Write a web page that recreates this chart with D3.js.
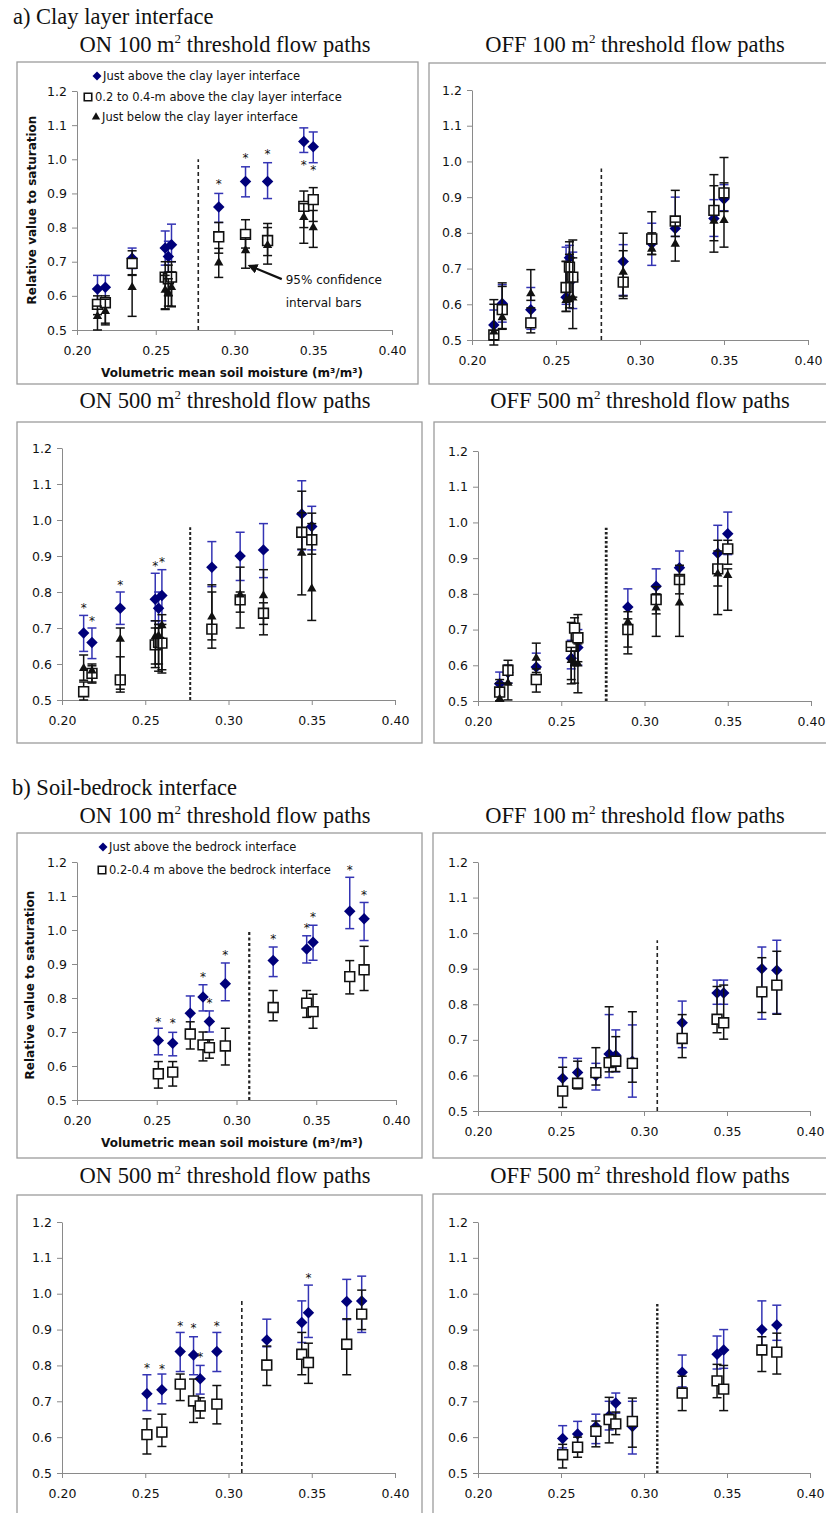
<!DOCTYPE html>
<html>
<head>
<meta charset="utf-8" />
<title>Relative value to saturation vs soil moisture</title>
<script src="https://cdn.jsdelivr.net/npm/d3@7"></script>
<style>
  body { margin: 0; background: #fff; }
  svg { display: block; }
  .tick text { font-family: "DejaVu Sans", sans-serif; font-size: 12.5px; fill: #111; }
  .tick line, .domain { stroke: #8a8a8a; }
  .title { font-family: "Liberation Serif", "Times New Roman", serif; font-size: 22.5px; fill: #111; }
  .axtitle { font-family: "DejaVu Sans", sans-serif; font-size: 12px; font-weight: bold; fill: #111; }
  .legend { font-family: "DejaVu Sans", sans-serif; font-size: 11.5px; fill: #111; }
  .note { font-family: "DejaVu Sans", sans-serif; font-size: 12px; fill: #111; }
  .star { font-family: "DejaVu Sans", sans-serif; font-size: 12px; fill: #111; }
</style>
</head>
<body>
<svg id="chart" width="826" height="1513"></svg>
<script>
// volumetric mean soil moisture of each survey (m3/m3)
const clayMoisture = [0.213, 0.218, 0.235, 0.256, 0.258, 0.260, 0.290, 0.307, 0.321, 0.344, 0.350];
const bedrockMoisture = [0.251, 0.260, 0.271, 0.279, 0.283, 0.293, 0.323, 0.344, 0.348, 0.371, 0.380];
const xTicks = [0.20, 0.25, 0.30, 0.35, 0.40];
const yTicks = [0.5, 0.6, 0.7, 0.8, 0.9, 1.0, 1.1, 1.2];
const clayBreak = 0.277, bedrockBreak = 0.308;

// [mean, lower 95%, upper 95%]
// a) clay layer, ON 100
const aOn100Above = [[0.620,0.580,0.660],[0.625,0.590,0.660],[0.710,0.680,0.740],[0.740,0.690,0.790],[0.715,0.670,0.760],[0.750,0.700,0.810],[0.860,0.815,0.900],[0.935,0.890,0.978],[0.935,0.885,0.990],[1.052,1.020,1.092],[1.037,0.990,1.080]];
const aOn100Mid = [[0.575,0.545,0.600],[0.580,0.515,0.600],[0.695,0.662,0.732],[0.655,0.562,0.700],[0.650,0.600,0.690],[0.655,0.568,0.700],[0.773,0.725,0.815],[0.780,0.740,0.823],[0.762,0.718,0.812],[0.862,0.800,0.907],[0.882,0.818,0.917]];
const aOn100Below = [[0.540,0.500,0.570],[0.555,0.520,0.590],[0.625,0.540,0.660],[0.617,0.560,0.660],[0.608,0.570,0.650],[0.625,0.570,0.670],[0.697,0.654,0.739],[0.733,0.681,0.770],[0.748,0.693,0.800],[0.830,0.754,0.870],[0.800,0.742,0.850]];
const aOn100Stars = [null,null,null,null,null,null,0.939,1.015,1.025,0.993,0.978];
// a) clay layer, OFF 100
const aOff100Above = [[0.542,0.520,0.584],[0.602,0.550,0.655],[0.585,0.530,0.647],[0.620,0.600,0.760],[0.730,0.620,0.765],[0.670,0.588,0.746],[0.720,0.625,0.767],[0.770,0.709,0.827],[0.812,0.790,0.900],[0.840,0.790,0.893],[0.895,0.862,0.935]];
const aOff100Mid = [[0.514,0.486,0.613],[0.585,0.530,0.660],[0.548,0.520,0.590],[0.647,0.580,0.720],[0.704,0.620,0.775],[0.676,0.620,0.780],[0.662,0.623,0.750],[0.783,0.740,0.859],[0.833,0.790,0.919],[0.863,0.778,0.963],[0.912,0.860,0.940]];
const aOff100Below = [[0.523,0.500,0.600],[0.563,0.532,0.650],[0.630,0.611,0.697],[0.611,0.580,0.720],[0.613,0.590,0.740],[0.618,0.532,0.730],[0.690,0.616,0.799],[0.755,0.739,0.800],[0.769,0.721,0.830],[0.833,0.746,0.932],[0.835,0.760,1.011]];
// a) clay layer, ON 500
const aOn500Above = [[0.686,0.635,0.735],[0.660,0.615,0.700],[0.755,0.710,0.800],[0.780,0.720,0.852],[0.755,0.710,0.800],[0.790,0.720,0.862],[0.869,0.815,0.940],[0.900,0.832,0.966],[0.917,0.840,0.990],[1.017,0.917,1.109],[0.982,0.917,1.038]];
const aOn500Mid = [[0.523,0.500,0.550],[0.574,0.550,0.595],[0.556,0.522,0.620],[0.653,0.590,0.700],[0.660,0.600,0.700],[0.658,0.584,0.710],[0.697,0.644,0.800],[0.778,0.744,0.800],[0.741,0.710,0.770],[0.966,0.919,1.020],[0.945,0.905,0.990]];
const aOn500Below = [[0.588,0.555,0.625],[0.581,0.547,0.600],[0.669,0.530,0.700],[0.676,0.600,0.720],[0.678,0.580,0.710],[0.707,0.575,0.737],[0.731,0.667,0.820],[0.792,0.700,0.869],[0.790,0.681,0.862],[0.908,0.792,1.080],[0.809,0.721,1.019]];
const aOn500Stars = [0.765,0.730,0.830,0.882,null,0.892,null,null,null,null,null];
// a) clay layer, OFF 500
const aOff500Above = [[0.548,0.520,0.581],[0.580,0.550,0.600],[0.595,0.560,0.634],[0.620,0.590,0.670],[0.660,0.600,0.712],[0.650,0.600,0.700],[0.763,0.710,0.814],[0.821,0.780,0.870],[0.873,0.840,0.920],[0.914,0.860,0.992],[0.968,0.910,1.029]];
const aOff500Mid = [[0.525,0.500,0.560],[0.586,0.550,0.614],[0.560,0.525,0.590],[0.653,0.560,0.720],[0.704,0.600,0.733],[0.677,0.610,0.742],[0.700,0.632,0.730],[0.784,0.744,0.820],[0.840,0.800,0.880],[0.870,0.822,0.920],[0.926,0.883,0.950]];
const aOff500Below = [[0.506,0.500,0.550],[0.550,0.503,0.600],[0.620,0.580,0.662],[0.614,0.548,0.650],[0.604,0.550,0.640],[0.604,0.523,0.660],[0.721,0.651,0.750],[0.761,0.681,0.800],[0.775,0.681,0.850],[0.856,0.742,0.950],[0.852,0.754,0.870]];
// b) soil-bedrock, ON 100
const bOn100Above = [[0.675,0.633,0.711],[0.667,0.630,0.699],[0.755,0.700,0.806],[0.803,0.762,0.839],[0.731,0.700,0.762],[0.842,0.792,0.903],[0.910,0.863,0.950],[0.944,0.903,0.983],[0.964,0.911,1.014],[1.055,1.004,1.155],[1.033,0.969,1.081]];
const bOn100Mid = [[0.577,0.535,0.613],[0.582,0.541,0.613],[0.694,0.650,0.730],[0.662,0.615,0.700],[0.654,0.623,0.677],[0.659,0.603,0.711],[0.772,0.733,0.822],[0.785,0.743,0.822],[0.760,0.711,0.811],[0.863,0.812,0.910],[0.883,0.822,0.952]];
const bOn100Stars = [0.741,0.736,null,0.871,0.795,0.937,0.983,1.016,1.047,1.187,1.112];
// b) soil-bedrock, OFF 100
const bOff100Above = [[0.592,0.560,0.650],[0.608,0.570,0.648],[0.600,0.559,0.634],[0.660,0.594,0.771],[0.657,0.610,0.728],[0.640,0.539,0.742],[0.748,0.678,0.809],[0.832,0.800,0.868],[0.832,0.800,0.868],[0.900,0.758,0.961],[0.896,0.774,0.980]];
const bOff100Mid = [[0.556,0.510,0.623],[0.578,0.562,0.640],[0.608,0.573,0.678],[0.636,0.610,0.793],[0.640,0.611,0.709],[0.634,0.581,0.779],[0.704,0.650,0.771],[0.758,0.720,0.850],[0.748,0.702,0.854],[0.835,0.777,0.931],[0.854,0.772,0.949]];
// b) soil-bedrock, ON 500
const bOn500Above = [[0.721,0.674,0.774],[0.732,0.693,0.776],[0.839,0.783,0.892],[0.829,0.774,0.880],[0.763,0.720,0.800],[0.839,0.783,0.892],[0.871,0.852,0.929],[0.920,0.864,0.980],[0.947,0.878,1.024],[0.978,0.928,1.040],[0.980,0.892,1.049]];
const bOn500Mid = [[0.607,0.553,0.651],[0.614,0.574,0.664],[0.748,0.702,0.776],[0.701,0.641,0.762],[0.687,0.653,0.710],[0.692,0.637,0.744],[0.801,0.744,0.854],[0.831,0.774,0.892],[0.808,0.750,0.862],[0.859,0.774,0.930],[0.943,0.900,1.010]];
const bOn500Stars = [0.803,0.800,0.920,0.915,0.834,0.920,null,null,1.054,null,null];
// b) soil-bedrock, OFF 500
const bOff500Above = [[0.596,0.570,0.632],[0.609,0.575,0.644],[0.630,0.582,0.664],[0.660,0.620,0.700],[0.695,0.667,0.723],[0.630,0.553,0.700],[0.781,0.740,0.829],[0.831,0.790,0.882],[0.843,0.792,0.900],[0.900,0.850,0.980],[0.913,0.870,0.968]];
const bOff500Mid = [[0.551,0.514,0.580],[0.572,0.544,0.600],[0.616,0.573,0.645],[0.649,0.584,0.711],[0.637,0.607,0.670],[0.644,0.572,0.709],[0.723,0.674,0.770],[0.757,0.710,0.803],[0.734,0.674,0.800],[0.843,0.783,0.880],[0.837,0.776,0.890]];

const navy = "#00007a", blueBar = "#3434b4";

// panel layout: box = [x0,y0,x1,y1], xr/yr = pixel ranges of the axes
const panels = [
  { title: ["ON 100 m", " threshold flow paths"], tx: 225, ty: 52, box: [17, 62, 418, 384], xr: [77, 392], yr: [330, 91],
    xs: clayMoisture, series: [[aOn100Above, "d"], [aOn100Mid, "s"], [aOn100Below, "t"]], stars: aOn100Stars,
    brk: clayBreak, brkTop: 1.0, dash: "4,3", dw: 1.6 },
  { title: ["OFF 100 m", " threshold flow paths"], tx: 635, ty: 52, box: [429, 63, 830, 384], xr: [472, 808], yr: [340, 90],
    xs: clayMoisture, series: [[aOff100Above, "d"], [aOff100Mid, "s"], [aOff100Below, "t"]],
    brk: clayBreak, brkTop: 0.98, dash: "4,3", dw: 1.6 },
  { title: ["ON 500 m", " threshold flow paths"], tx: 225, ty: 408, box: [17, 422, 422, 743], xr: [62, 395], yr: [700, 448],
    xs: clayMoisture, series: [[aOn500Above, "d"], [aOn500Mid, "s"], [aOn500Below, "t"]], stars: aOn500Stars,
    brk: clayBreak, brkTop: 0.98, dash: "3,2", dw: 2 },
  { title: ["OFF 500 m", " threshold flow paths"], tx: 640, ty: 408, box: [434, 422, 830, 743], xr: [478, 811], yr: [701, 451],
    xs: clayMoisture, series: [[aOff500Above, "d"], [aOff500Mid, "s"], [aOff500Below, "t"]],
    brk: clayBreak, brkTop: 0.985, dash: "2.5,2", dw: 2.8 },
  { title: ["ON 100 m", " threshold flow paths"], tx: 225, ty: 823, box: [17, 833, 422, 1158], xr: [77, 396], yr: [1100, 862],
    xs: bedrockMoisture, series: [[bOn100Above, "d"], [bOn100Mid, "s"]], stars: bOn100Stars,
    brk: bedrockBreak, brkTop: 1.0, dash: "3,2.5", dw: 2.2 },
  { title: ["OFF 100 m", " threshold flow paths"], tx: 635, ty: 823, box: [433, 833, 830, 1158], xr: [478, 810], yr: [1111, 862],
    xs: bedrockMoisture, series: [[bOff100Above, "d"], [bOff100Mid, "s"]],
    brk: bedrockBreak, brkTop: 0.98, dash: "4,3", dw: 1.6 },
  { title: ["ON 500 m", " threshold flow paths"], tx: 225, ty: 1183, box: [17, 1195, 422, 1530], xr: [62, 395], yr: [1473, 1222],
    xs: bedrockMoisture, series: [[bOn500Above, "d"], [bOn500Mid, "s"]], stars: bOn500Stars,
    brk: bedrockBreak, brkTop: 0.98, dash: "4,3", dw: 1.6 },
  { title: ["OFF 500 m", " threshold flow paths"], tx: 640, ty: 1183, box: [433, 1194, 830, 1530], xr: [478, 810], yr: [1473, 1222],
    xs: bedrockMoisture, series: [[bOff500Above, "d"], [bOff500Mid, "s"]],
    brk: bedrockBreak, brkTop: 0.975, dash: "2.5,2", dw: 2.4 }
];

const svg = d3.select("#chart");

svg.append("defs").append("marker")
  .attr("id", "arrow").attr("viewBox", "0 0 10 10").attr("refX", 8).attr("refY", 5)
  .attr("markerWidth", 4.5).attr("markerHeight", 4.5).attr("orient", "auto")
  .append("path").attr("d", "M0,0 L10,5 L0,10 Z").attr("fill", "#111");

function sym(type, size) {
  if (type === "t") return d3.symbol(d3.symbolTriangle, size)();
  return d3.symbol(d3.symbolSquare, size)();
}

function drawMarker(g, type, px, py, big) {
  if (type === "d") {
    g.append("path").attr("d", sym("s", big ? 66 : 40))
      .attr("transform", `translate(${px},${py}) rotate(45)`).attr("fill", navy);
  } else if (type === "s") {
    g.append("path").attr("d", sym("s", big ? 96 : 56))
      .attr("transform", `translate(${px},${py})`).attr("fill", "#fff")
      .attr("stroke", "#111").attr("stroke-width", 1.6);
  } else {
    g.append("path").attr("d", sym("t", big ? 38 : 30))
      .attr("transform", `translate(${px},${py})`).attr("fill", "#111");
  }
}

// section headings
svg.append("text").attr("class", "title").attr("x", 13).attr("y", 24).text("a) Clay layer interface");
svg.append("text").attr("class", "title").attr("x", 12).attr("y", 795).text("b) Soil-bedrock interface");

panels.forEach(p => {
  const g = svg.append("g");
  const [bx0, by0, bx1, by1] = p.box;
  g.append("rect").attr("x", bx0).attr("y", by0).attr("width", bx1 - bx0).attr("height", by1 - by0)
    .attr("fill", "none").attr("stroke", "#9c9c9c").attr("stroke-width", 1.3);

  const t = g.append("text").attr("class", "title").attr("x", p.tx).attr("y", p.ty).attr("text-anchor", "middle");
  t.append("tspan").text(p.title[0]);
  t.append("tspan").attr("dy", -9).attr("font-size", 13).text("2");
  t.append("tspan").attr("dy", 9).text(p.title[1]);

  const x = d3.scaleLinear().domain([0.20, 0.40]).range(p.xr);
  const y = d3.scaleLinear().domain([0.5, 1.2]).range(p.yr);

  g.append("g").attr("transform", `translate(0,${p.yr[0]})`)
    .call(d3.axisBottom(x).tickValues(xTicks).tickFormat(d3.format(".2f")).tickSize(5).tickSizeOuter(0).tickPadding(11));
  g.append("g").attr("transform", `translate(${p.xr[0]},0)`)
    .call(d3.axisLeft(y).tickValues(yTicks).tickFormat(d3.format(".1f")).tickSize(5).tickSizeOuter(0).tickPadding(5));

  // threshold line
  g.append("line").attr("x1", x(p.brk)).attr("x2", x(p.brk))
    .attr("y1", y(0.5)).attr("y2", y(p.brkTop))
    .attr("stroke", "#222").attr("stroke-width", p.dw).attr("stroke-dasharray", p.dash);

  // series: bars first, then markers, in series order
  p.series.forEach(([data, type]) => {
    const col = type === "d" ? blueBar : "#111";
    const sg = g.append("g");
    data.forEach((d, i) => {
      const px = x(p.xs[i]);
      sg.append("line").attr("x1", px).attr("x2", px).attr("y1", y(d[1])).attr("y2", y(d[2]))
        .attr("stroke", col).attr("stroke-width", 1.5);
      [d[1], d[2]].forEach(v => {
        sg.append("line").attr("x1", px - 4.5).attr("x2", px + 4.5).attr("y1", y(v)).attr("y2", y(v))
          .attr("stroke", col).attr("stroke-width", 1.5);
      });
    });
    data.forEach((d, i) => drawMarker(sg, type, x(p.xs[i]), y(d[0]), true));
  });

  if (p.stars) {
    p.stars.forEach((s, i) => {
      if (s === null) return;
      g.append("text").attr("class", "star").attr("text-anchor", "middle")
        .attr("x", x(p.xs[i])).attr("y", y(s)).attr("dy", "0.62em").text("*");
    });
  }

  p.x = x; p.y = y;
});

// axis titles
const axisTitle = "Volumetric mean soil moisture (m\u00B3/m\u00B3)";
svg.append("text").attr("class", "axtitle").attr("x", 232).attr("y", 377).attr("text-anchor", "middle").text(axisTitle);
svg.append("text").attr("class", "axtitle").attr("x", 232).attr("y", 1147).attr("text-anchor", "middle").text(axisTitle);
[[32, 210], [30, 985]].forEach(([cx, cy]) => {
  svg.append("text").attr("class", "axtitle").attr("text-anchor", "middle").attr("dominant-baseline", "middle")
    .attr("transform", `translate(${cx},${cy}) rotate(-90)`).text("Relative value to saturation");
});

// legends
const legA = [["d", "Just above the clay layer interface", 97, 76],
              ["s", "0.2 to 0.4-m above the clay layer interface", 88, 97],
              ["t", "Just below the clay layer interface", 96, 117]];
const legB = [["d", "Just above the bedrock interface", 103, 847],
              ["s", "0.2-0.4 m above the bedrock interface", 102, 870]];
const lg = svg.append("g");
legA.concat(legB).forEach(([type, label, lx, ly]) => {
  drawMarker(lg, type, lx, ly, false);
  lg.append("text").attr("class", "legend").attr("x", lx + (type === "s" ? 7 : 6)).attr("y", ly)
    .attr("dominant-baseline", "middle").text(label);
});

// confidence interval annotation (first panel)
const p0 = panels[0];
const arrowFrom = [0.330, 0.649], arrowTo = [0.3095, 0.688];
svg.append("line")
  .attr("x1", p0.x(arrowFrom[0])).attr("y1", p0.y(arrowFrom[1]))
  .attr("x2", p0.x(arrowTo[0])).attr("y2", p0.y(arrowTo[1]))
  .attr("stroke", "#111").attr("stroke-width", 2.2).attr("marker-end", "url(#arrow)");
[["95% confidence", 0.646], ["interval bars", 0.579]].forEach(([txt, v]) => {
  svg.append("text").attr("class", "note").attr("x", p0.x(0.3325)).attr("y", p0.y(v))
    .attr("dominant-baseline", "middle").text(txt);
});
</script>
</body>
</html>
